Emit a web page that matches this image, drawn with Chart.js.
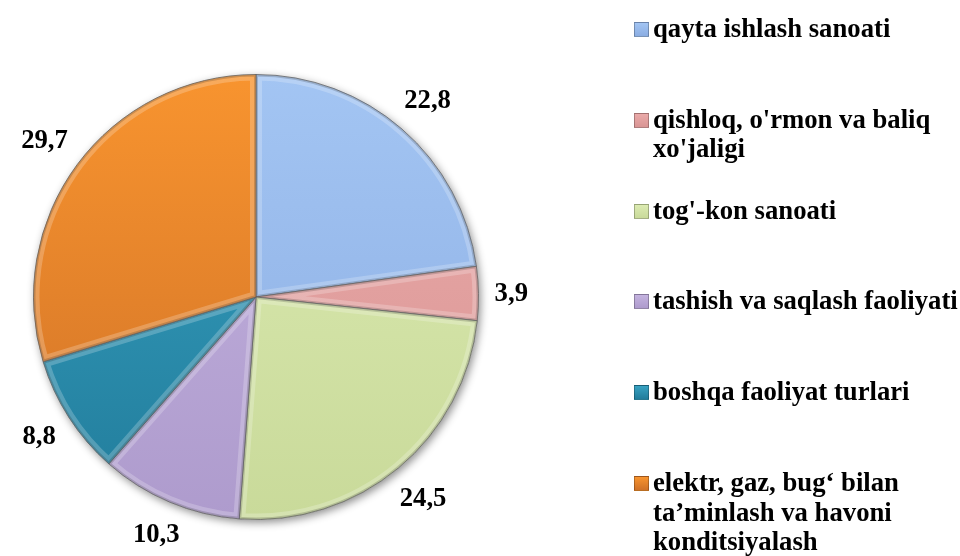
<!DOCTYPE html>
<html>
<head>
<meta charset="utf-8">
<script src="https://cdn.jsdelivr.net/npm/chart.js@4.4.0/dist/chart.umd.min.js"></script>
<style>
  html, body { margin: 0; padding: 0; background: #fff; overflow: hidden; }
  #wrap { position: relative; width: 960px; height: 556px; }
  #legend { position: absolute; left: 0; top: 0; }
  .item { position: absolute; left: 634px; width: 326px; font: bold 26.7px "Liberation Serif", "Times New Roman", serif; line-height: 29.5px; color: #000; }
  .item .box { position: absolute; left: 0; top: 8px; width: 13px; height: 13px; border: 1px solid rgba(0,0,0,0.25); }
  .item .txt { position: absolute; left: 19px; top: 0; width: 307px; }
</style>
</head>
<body>
<div id="wrap">
  <canvas id="myChart" width="960" height="556"></canvas>
  <div id="legend"></div>
</div>
<script>
// categories and values (%)
var categories = [
    "qayta ishlash sanoati",
    "qishloq, o'rmon va baliq xo'jaligi",
    "tog'-kon sanoati",
    "tashish va saqlash faoliyati",
    "boshqa faoliyat turlari",
    "elektr, gaz, bug‘ bilan ta’minlash va havoni konditsiyalash"
];
var values = [22.8, 3.9, 24.5, 10.3, 8.8, 29.7];

// slice colours (lighter top / darker bottom)
var topColors = ["#a3c5f3", "#eaaaa9", "#dcebb2", "#c4b3df", "#38a2c2", "#f8942f"];
var bottomColors = ["#8badE2", "#d99594", "#c9da9a", "#ae9bcd", "#217c9b", "#cf7127"];

var ctx = document.getElementById('myChart');

function sliceFill(c) {
    var area = c.chart.chartArea;
    var i = c.dataIndex;
    if (!area || i === undefined) return topColors[i || 0];
    var g = c.chart.ctx.createLinearGradient(0, area.top, 0, area.bottom);
    g.addColorStop(0, topColors[i]);
    g.addColorStop(1, bottomColors[i]);
    return g;
}

// soft shadow under the pie
var shadowPlugin = {
    id: 'pieShadow',
    beforeDatasetsDraw: function (chart) {
        var arc = chart.getDatasetMeta(0).data[0];
        if (!arc) return;
        var c = chart.ctx;
        c.save();
        c.shadowColor = 'rgba(0,0,0,0.45)';
        c.shadowBlur = 9;
        c.shadowOffsetX = 2;
        c.shadowOffsetY = 3;
        c.fillStyle = '#fff';
        c.beginPath();
        c.arc(arc.x, arc.y, arc.outerRadius, 0, Math.PI * 2);
        c.fill();
        c.restore();
    }
};

// bevel edges + value labels
var bevelPlugin = {
    id: 'bevelLabels',
    afterDatasetsDraw: function (chart) {
        var c = chart.ctx;
        var meta = chart.getDatasetMeta(0);
        meta.data.forEach(function (arc, i) {
            var p = arc.getProps(['x', 'y', 'startAngle', 'endAngle', 'outerRadius'], true);
            c.save();
            c.beginPath();
            c.moveTo(p.x, p.y);
            c.arc(p.x, p.y, p.outerRadius, p.startAngle, p.endAngle);
            c.closePath();
            c.clip();
            c.lineJoin = 'round';
            c.lineWidth = 12;
            c.strokeStyle = 'rgba(255,255,255,0.22)';
            c.stroke();
            c.lineWidth = 4;
            c.strokeStyle = 'rgba(0,0,0,0.16)';
            c.stroke();
            c.restore();
        });

        c.save();
        c.font = 'bold 26.7px "Liberation Serif", "Times New Roman", serif';
        c.fillStyle = '#000';
        c.textAlign = 'center';
        c.textBaseline = 'middle';
        meta.data.forEach(function (arc, i) {
            var p = arc.getProps(['x', 'y', 'startAngle', 'endAngle', 'outerRadius'], true);
            var mid = (p.startAngle + p.endAngle) / 2;
            var txt = values[i].toFixed(1).replace('.', ',');
            var w = c.measureText(txt).width;
            var h = 20;
            var cs = Math.cos(mid), sn = Math.sin(mid);
            var d = p.outerRadius + 16 + Math.abs(cs) * w / 2 + Math.abs(sn) * h / 2;
            c.fillText(txt, p.x + cs * d, p.y + sn * d + 1);
        });
        c.restore();
    }
};

var chart = new Chart(ctx, {
    type: 'pie',
    data: {
        labels: categories,
        datasets: [{
            data: values,
            backgroundColor: sliceFill,
            borderColor: 'rgba(70,70,70,0.7)',
            borderWidth: 1
        }]
    },
    options: {
        responsive: false,
        animation: false,
        layout: { padding: { left: 33, top: 74, right: 481, bottom: 36 } },
        plugins: {
            legend: { display: false },
            tooltip: { enabled: false }
        }
    },
    plugins: [shadowPlugin, bevelPlugin]
});

// legend on the right
var legend = document.getElementById('legend');
categories.forEach(function (name, i) {
    var item = document.createElement('div');
    item.className = 'item';
    item.style.top = (14 + i * 90.8) + 'px';
    var box = document.createElement('div');
    box.className = 'box';
    box.style.background = 'linear-gradient(' + topColors[i] + ', ' + bottomColors[i] + ')';
    var txt = document.createElement('div');
    txt.className = 'txt';
    txt.textContent = name;
    item.appendChild(box);
    item.appendChild(txt);
    legend.appendChild(item);
});
</script>
</body>
</html>
